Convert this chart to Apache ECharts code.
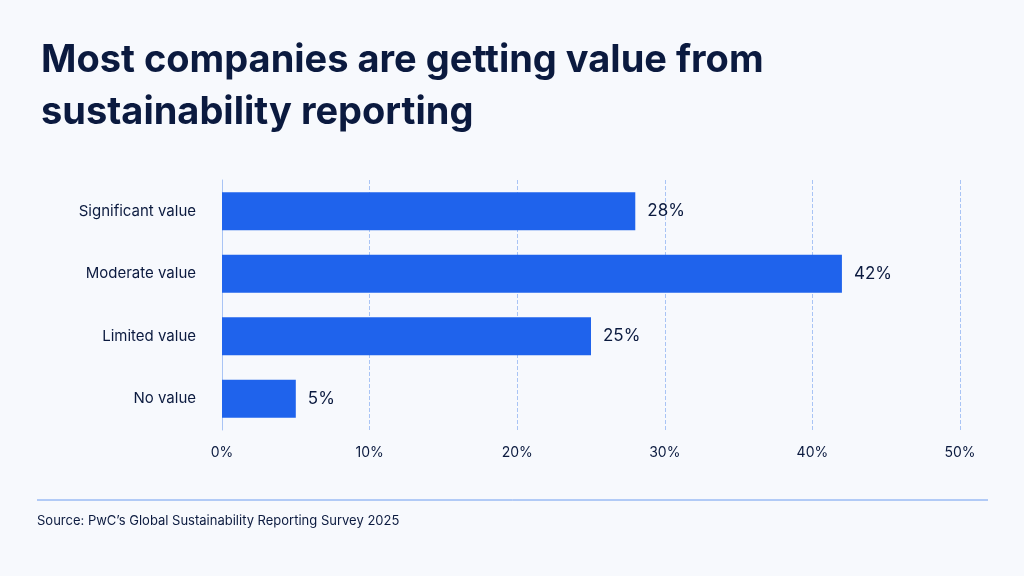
<!DOCTYPE html>
<html>
<head>
<meta charset="utf-8">
<script src="https://cdn.jsdelivr.net/npm/echarts@6/dist/echarts.min.js"></script>
<style>
html,body{margin:0;padding:0;background:#f7f9fd;}
#main{width:1024px;height:576px;}
</style>
</head>
<body>
<div id="main"></div>
<script>
var categories = ['Significant value', 'Moderate value', 'Limited value', 'No value'];
var values = [28, 42, 25, 5];
var xTicks = [0, 10, 20, 30, 40, 50];

var chart = echarts.init(document.getElementById('main'));
var navy = '#0b1a3f';
chart.setOption({
    backgroundColor: '#f7f9fd',
    textStyle: {fontFamily: 'Inter'},
    title: {
        text: 'Most companies are getting value from\nsustainability reporting',
        left: 36, top: 30,
        textStyle: {fontFamily: 'Inter', fontSize: 38, fontWeight: 'bold', color: navy, lineHeight: 52}
    },
    grid: {left: 222, right: 64, top: 180, bottom: 146},
    xAxis: {
        type: 'value', min: xTicks[0], max: xTicks[xTicks.length - 1], interval: 10,
        axisLabel: {formatter: '{value}%', color: navy, fontSize: 14, margin: 16},
        axisLine: {show: false}, axisTick: {show: false},
        splitLine: {lineStyle: {type: 'dashed', color: '#a9c4f5', width: 1}}
    },
    yAxis: {
        type: 'category', inverse: true, data: categories,
        axisLine: {lineStyle: {color: '#a9c4f5'}}, axisTick: {show: false},
        axisLabel: {color: navy, fontSize: 15, margin: 26}
    },
    series: [{
        type: 'bar', data: values, barWidth: 38,
        itemStyle: {color: '#1f63ec'},
        label: {show: true, position: 'right', formatter: '{c}%', color: navy, fontSize: 17, distance: 12}
    }],
    graphic: [
        {type: 'line', shape: {x1: 37, y1: 500, x2: 988, y2: 500}, style: {stroke: '#6d9cf0', lineWidth: 1}},
        {type: 'text', left: 37, top: 515, style: {text: 'Source: PwC\u2019s Global Sustainability Reporting Survey 2025', fill: navy, fontSize: 13, fontFamily: 'Inter'}}
    ]
});
</script>
</body>
</html>
